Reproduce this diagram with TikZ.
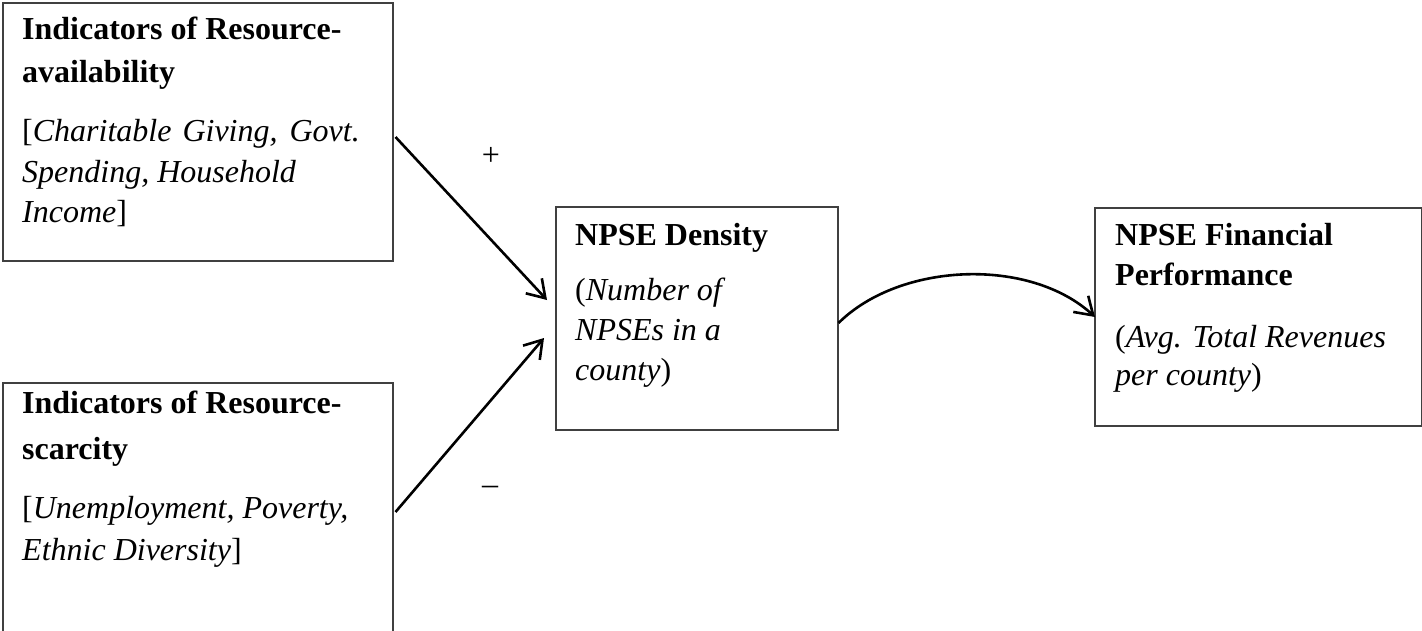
\documentclass[tikz,border=0pt]{standalone}
\usepackage{fontspec}
\setmainfont{Liberation Serif}
\usetikzlibrary{arrows.meta,calc}
\definecolor{boxline}{HTML}{404040}
\begin{document}
\begin{tikzpicture}[x=1pt,y=-1pt,
  box/.style={draw=boxline,line width=1.5pt,rectangle,inner sep=0pt,anchor=north west},
  txt/.style={anchor=base west,inner sep=0pt,align=left,font=\fontsize{32}{41}\selectfont},
  link/.style={line width=2.6pt,-{Straight Barb[length=17pt,width=22pt,line width=2.6pt]}},
  sign/.style={inner sep=0pt,font=\fontsize{32}{38}\selectfont}]
\useasboundingbox (0,0) rectangle (1422,630);
\clip (0,0) rectangle (1422,630);
% boxes
\node[box,minimum width=390pt,minimum height=258pt] (A) at (2,2) {};
\node[box,minimum width=390pt,minimum height=290pt] (B) at (2,382) {};
\node[box,minimum width=282pt,minimum height=223pt] (C) at (555,206) {};
\node[box,minimum width=327pt,minimum height=218pt] (D) at (1094,207) {};
% texts (anchored at the baseline of their last line)
\node[txt] (Ah) at (22,82) {\textbf{Indicators of Resource-}\\[2pt]\textbf{availability}};
\node[txt] (Ai) at (22,222) {[\textit{Charitable\hspace{3pt} Giving,\hspace{4pt} Govt.}\\\textit{Spending, Household}\\[-1pt]\textit{Income}]};
\node[txt] (Bh) at (22,459) {\textbf{Indicators of Resource-}\\[5pt]\textbf{scarcity}};
\node[txt] (Bi) at (22,560) {[\textit{Unemployment, Poverty,}\\[1pt]\textit{Ethnic Diversity}]};
\node[txt] (Ch) at (575,245) {\textbf{NPSE Density}};
\node[txt] (Ci) at (575,380) {(\textit{Number of}\\[-1pt]\textit{NPSEs in a}\\[-1pt]\textit{county})};
\node[txt] (Dh) at (1115,285) {\textbf{NPSE Financial}\\[-1pt]\textbf{Performance}};
\node[txt] (Di) at (1115,385) {(\textit{Avg. Total Revenues}\\[-3pt]\textit{per county})};
% signs
\node[sign] (plus) at (491,156) {+};
\node[sign] (minus) at (490,490) {–};
% connectors
\draw[link] ([shift={(2,135)}]A.north east) -- ([shift={(-8,94)}]C.north west);
\draw[link] ([shift={(2,130)}]B.north east) -- ([shift={(-11,132)}]C.north west);
\draw[link] ([shift={(0,117)}]C.north east) .. controls (900,262) and (1030,257) .. ([shift={(1,110)}]D.north west);
\end{tikzpicture}
\end{document}
